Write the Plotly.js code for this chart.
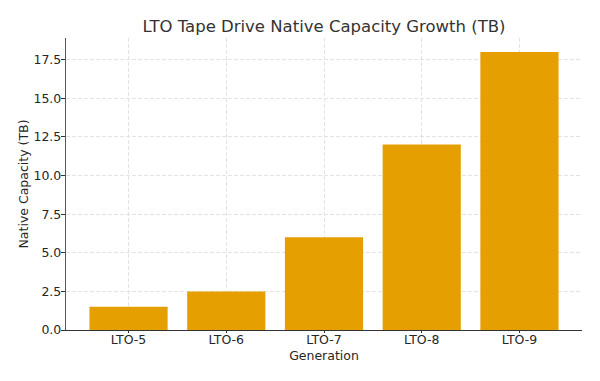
<!DOCTYPE html>
<html><head><meta charset="utf-8">
<script src="https://cdn.plot.ly/plotly-3.0.1.min.js"></script>
<style>html,body{margin:0;padding:0;background:#fff}</style>
</head><body>
<div id="chart" style="width:600px;height:381px"></div>
<script>
const generations = ["LTO-5", "LTO-6", "LTO-7", "LTO-8", "LTO-9"];
const capacityTB = [1.5, 2.5, 6.0, 12.0, 18.0];
const yTickVals = [0, 2.5, 5, 7.5, 10, 12.5, 15, 17.5];
const yTickText = ["0.0", "2.5", "5.0", "7.5", "10.0", "12.5", "15.0", "17.5"];

const font = {family: "DejaVu Sans, sans-serif", size: 12.5, color: "#262626"};
Plotly.newPlot("chart", [{
  type: "bar",
  x: generations,
  y: capacityTB,
  marker: {color: "#E69F00"},
  width: 0.8,
  hoverinfo: "x+y"
}], {
  width: 600, height: 381,
  margin: {l: 66, r: 18, t: 38, b: 51},
  paper_bgcolor: "#fff", plot_bgcolor: "#fff",
  font: font,
  showlegend: false,
  title: {text: "LTO Tape Drive Native Capacity Growth (TB)", font: {family: font.family, size: 16.5, color: "#333333"},
          x: 0.54, xanchor: "center", y: 0.932, yanchor: "middle"},
  xaxis: {
    range: [-0.64, 4.64],
    title: {text: "Generation", font: {size: 12.5}, standoff: 5},
    showline: true, linecolor: "#333333", linewidth: 1.2,
    ticks: "outside", ticklen: 2, tickcolor: "#333333",
    ticklabelstandoff: -4,
    showgrid: true, gridcolor: "#e3e3e3", griddash: "4px,2px", gridwidth: 1,
    zeroline: false, automargin: false
  },
  yaxis: {
    range: [0, 18.9],
    tickvals: yTickVals, ticktext: yTickText,
    title: {text: "Native Capacity (TB)", font: {size: 12.5}, standoff: 2},
    showline: true, linecolor: "#555555", linewidth: 1.2,
    ticks: "outside", ticklen: 4, tickcolor: "#333333",
    ticklabelstandoff: -3,
    showgrid: true, gridcolor: "#e3e3e3", griddash: "4px,2px", gridwidth: 1,
    zeroline: false, automargin: false
  }
}, {displayModeBar: false, staticPlot: true});
</script>
</body></html>
